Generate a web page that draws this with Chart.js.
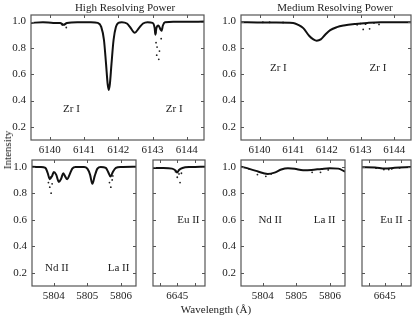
<!DOCTYPE html>
<html>
<head>
<meta charset="utf-8">
<script src="https://cdn.jsdelivr.net/npm/chart.js@4"></script>
<style>
  body { margin: 0; background: #fff; }
  #wrap { position: relative; width: 415px; height: 317px; font-family: "Liberation Serif", serif; color: #222; }
  canvas { position: absolute; }
  .lbl { position: absolute; font-size: 11px; white-space: nowrap; transform: translate(-50%, -50%); }
</style>
</head>
<body>
<div id="wrap">
  <canvas id="zrHigh" width="210" height="160" style="left:0;top:0"></canvas>
  <canvas id="zrMed" width="205" height="160" style="left:210px;top:0"></canvas>
  <canvas id="ndHigh" width="140" height="160" style="left:0;top:145px"></canvas>
  <canvas id="euHigh" width="70" height="160" style="left:140px;top:145px"></canvas>
  <canvas id="ndMed" width="140" height="160" style="left:210px;top:145px"></canvas>
  <canvas id="euMed" width="65" height="160" style="left:350px;top:145px"></canvas>

  <div class="lbl" style="left:125px;top:7px">High Resolving Power</div>
  <div class="lbl" style="left:335px;top:7px">Medium Resolving Power</div>
  <div class="lbl" style="left:7px;top:150px;transform:translate(-50%,-50%) rotate(-90deg)">Intensity</div>
  <div class="lbl" style="left:216px;top:309px">Wavelength (Å)</div>
</div>
<script>
// tick values
const zrTicks = [6140, 6141, 6142, 6143, 6144];
const ndLaTicks = [5804, 5805, 5806];
const euTicks = [6644.5, 6645, 6645.5];
const euLabelTicks = [6645];
const intensityTicks = [0.2, 0.4, 0.6, 0.8, 1.0];

// High resolving power - Zr I region
const zrHighWave = [6139.45, 6139.8, 6140.1, 6140.3, 6140.4, 6140.5, 6140.8, 6141.2, 6141.4, 6141.5, 6141.58, 6141.64, 6141.69, 6141.72, 6141.75, 6141.8, 6141.86, 6141.93, 6142.0, 6142.1, 6142.25, 6142.35, 6142.48, 6142.6, 6142.72, 6142.85, 6143.0, 6143.06, 6143.08, 6143.11, 6143.17, 6143.23, 6143.26, 6143.3, 6143.36, 6143.6, 6144.0, 6144.5];
const zrHighFlux = [0.99, 0.995, 0.99, 0.99, 0.975, 0.99, 0.995, 0.995, 0.99, 0.96, 0.86, 0.68, 0.52, 0.48, 0.52, 0.68, 0.86, 0.96, 0.99, 0.995, 0.985, 0.955, 0.915, 0.95, 0.985, 0.995, 0.99, 0.95, 0.90, 0.95, 0.97, 0.94, 0.93, 0.97, 0.995, 0.998, 0.998, 1.0];
const zrHighObsWave = [6140.36, 6140.48, 6143.09, 6143.25, 6143.1, 6143.13, 6143.2, 6143.12, 6143.18];
const zrHighObsFlux = [0.975, 0.955, 0.915, 0.87, 0.84, 0.806, 0.776, 0.745, 0.713];

// Medium resolving power - Zr I region
const zrMedWave = [6139.45, 6140.0, 6140.5, 6141.0, 6141.15, 6141.3, 6141.48, 6141.6, 6141.7, 6141.82, 6141.95, 6142.1, 6142.3, 6142.5, 6142.85, 6143.2, 6143.6, 6144.5];
const zrMedFlux = [0.995, 0.993, 0.993, 0.99, 0.975, 0.95, 0.89, 0.865, 0.855, 0.865, 0.9, 0.935, 0.958, 0.97, 0.982, 0.99, 0.995, 0.995];
const zrMedObsWave = [6140.1, 6140.3, 6140.7, 6142.9, 6143.0, 6143.08, 6143.15, 6143.27, 6143.4, 6143.55];
const zrMedObsFlux = [0.995, 0.995, 0.993, 0.975, 0.985, 0.94, 0.98, 0.945, 0.99, 0.978];

// High resolving power - Nd II / La II region
const ndHighWave = [5803.35, 5803.6, 5803.75, 5803.82, 5803.88, 5803.95, 5804.0, 5804.07, 5804.15, 5804.22, 5804.28, 5804.33, 5804.4, 5804.47, 5804.55, 5804.65, 5804.9, 5805.0, 5805.08, 5805.15, 5805.22, 5805.3, 5805.4, 5805.55, 5805.62, 5805.69, 5805.76, 5805.85, 5806.0, 5806.45];
const ndHighFlux = [1.0, 0.998, 0.99, 0.95, 0.905, 0.93, 0.96, 0.94, 0.885, 0.91, 0.95, 0.93, 0.905, 0.94, 0.985, 0.998, 0.998, 0.985, 0.94, 0.87, 0.93, 0.985, 0.998, 0.99, 0.96, 0.925, 0.96, 0.99, 0.998, 1.0];
const ndHighObsWave = [5803.84, 5803.88, 5803.92, 5803.95, 5803.9, 5805.66, 5805.7, 5805.74, 5805.76];
const ndHighObsFlux = [0.88, 0.845, 0.80, 0.87, 0.92, 0.88, 0.845, 0.9, 0.93];

// High resolving power - Eu II region
const euHighWave = [6644.3, 6644.6, 6644.85, 6644.95, 6645.0, 6645.05, 6645.15, 6645.4, 6645.8];
const euHighFlux = [0.99, 0.99, 0.985, 0.97, 0.955, 0.975, 0.99, 0.997, 1.0];
const euHighObsWave = [6644.95, 6645.0, 6645.05, 6645.08, 6645.12];
const euHighObsFlux = [0.962, 0.92, 0.945, 0.88, 0.95];

// Medium resolving power - Nd II / La II region
const ndMedWave = [5803.35, 5803.6, 5803.8, 5804.0, 5804.15, 5804.35, 5804.55, 5804.75, 5804.95, 5805.2, 5805.45, 5805.75, 5806.0, 5806.25, 5806.45];
const ndMedFlux = [1.0, 0.983, 0.968, 0.952, 0.945, 0.955, 0.978, 0.987, 0.984, 0.973, 0.975, 0.983, 0.988, 0.985, 0.962];
const ndMedObsWave = [5803.59, 5803.84, 5804.09, 5804.25, 5805.47, 5805.72, 5805.95];
const ndMedObsFlux = [0.983, 0.94, 0.927, 0.945, 0.957, 0.957, 0.975];

// Medium resolving power - Eu II region
const euMedWave = [6644.3, 6644.7, 6645.0, 6645.3, 6645.8];
const euMedFlux = [0.995, 0.993, 0.985, 0.992, 0.997];
const euMedObsWave = [6644.73, 6644.97, 6645.12, 6645.21, 6645.45];
const euMedObsFlux = [0.988, 0.978, 0.978, 0.983, 0.99];

const FONT = { family: '"Liberation Serif", serif', size: 11 };

function zip(xs, ys) {
    return xs.map((x, i) => ({ x: x, y: ys[i] }));
}

// frame, inward ticks and line labels
const framePlugin = {
    id: 'frame',
    afterDraw(chart, args, opts) {
        const ctx = chart.ctx;
        const a = chart.chartArea;
        const xs = chart.scales.x, ys = chart.scales.y;
        ctx.save();
        ctx.strokeStyle = '#555';
        ctx.lineWidth = 1.2;
        ctx.strokeRect(a.left, a.top, a.right - a.left, a.bottom - a.top);
        ctx.lineWidth = 1;
        ctx.beginPath();
        opts.xTicks.forEach(v => {
            const px = Math.round(xs.getPixelForValue(v)) + 0.5;
            ctx.moveTo(px, a.top); ctx.lineTo(px, a.top + 3);
            ctx.moveTo(px, a.bottom); ctx.lineTo(px, a.bottom - 3);
        });
        intensityTicks.forEach(v => {
            const py = Math.round(ys.getPixelForValue(v)) + 0.5;
            ctx.moveTo(a.left, py); ctx.lineTo(a.left + 3, py);
            ctx.moveTo(a.right, py); ctx.lineTo(a.right - 3, py);
        });
        ctx.stroke();
        ctx.fillStyle = '#222';
        ctx.font = '11px "Liberation Serif", serif';
        ctx.textAlign = 'center';
        ctx.textBaseline = 'middle';
        (opts.notes || []).forEach(n => {
            ctx.fillText(n.text, xs.getPixelForValue(n.x), ys.getPixelForValue(n.y));
        });
        ctx.restore();
    }
};

function panel(id, p) {
    return new Chart(document.getElementById(id), {
        type: 'line',
        data: {
            datasets: [
                {
                    data: zip(p.wave, p.flux),
                    borderColor: '#111',
                    borderWidth: 2,
                    pointRadius: 0,
                    cubicInterpolationMode: 'monotone',
                    fill: false
                },
                {
                    data: zip(p.obsWave, p.obsFlux),
                    showLine: false,
                    pointRadius: 0.9,
                    pointBorderWidth: 0,
                    backgroundColor: '#222'
                }
            ]
        },
        options: {
            responsive: false,
            animation: false,
            events: [],
            layout: { padding: { top: 15, right: p.padRight, left: 0, bottom: 0 } },
            plugins: {
                legend: { display: false },
                tooltip: { enabled: false },
                frame: { xTicks: p.xTicks, notes: p.notes }
            },
            scales: {
                x: {
                    type: 'linear',
                    min: p.xMin,
                    max: p.xMax,
                    grid: { display: false, drawTicks: false },
                    border: { display: false },
                    afterBuildTicks: s => { s.ticks = p.xTicks.map(v => ({ value: v })); },
                    afterFit: s => { s.height = p.xHeight; },
                    ticks: {
                        padding: 4,
                        maxRotation: 0,
                        autoSkip: false,
                        color: '#222',
                        font: FONT,
                        callback: v => (p.xLabels.includes(v) ? String(v) : '')
                    }
                },
                y: {
                    min: 0.1,
                    max: 1.05,
                    grid: { display: false, drawTicks: false },
                    border: { display: false },
                    afterBuildTicks: s => { s.ticks = intensityTicks.map(v => ({ value: v })); },
                    afterFit: s => { s.width = p.yWidth; },
                    ticks: {
                        display: p.yLabels,
                        padding: 5,
                        color: '#222',
                        font: FONT,
                        callback: v => v.toFixed(1)
                    }
                }
            }
        },
        plugins: [framePlugin]
    });
}

panel('zrHigh', {
    wave: zrHighWave, flux: zrHighFlux, obsWave: zrHighObsWave, obsFlux: zrHighObsFlux,
    xMin: 6139.45, xMax: 6144.5, xTicks: zrTicks, xLabels: zrTicks,
    yWidth: 31, yLabels: true, padRight: 6, xHeight: 20,
    notes: [{ text: 'Zr I', x: 6140.63, y: 0.335 }, { text: 'Zr I', x: 6143.63, y: 0.335 }]
});
panel('zrMed', {
    wave: zrMedWave, flux: zrMedFlux, obsWave: zrMedObsWave, obsFlux: zrMedObsFlux,
    xMin: 6139.45, xMax: 6144.5, xTicks: zrTicks, xLabels: zrTicks,
    yWidth: 31, yLabels: true, padRight: 1, xHeight: 20,
    notes: [{ text: 'Zr I', x: 6140.56, y: 0.645 }, { text: 'Zr I', x: 6143.52, y: 0.645 }]
});
panel('ndHigh', {
    wave: ndHighWave, flux: ndHighFlux, obsWave: ndHighObsWave, obsFlux: ndHighObsFlux,
    xMin: 5803.35, xMax: 5806.45, xTicks: ndLaTicks, xLabels: ndLaTicks,
    yWidth: 32, yLabels: true, padRight: 4, xHeight: 19,
    notes: [{ text: 'Nd II', x: 5804.09, y: 0.235 }, { text: 'La II', x: 5805.93, y: 0.235 }]
});
panel('euHigh', {
    wave: euHighWave, flux: euHighFlux, obsWave: euHighObsWave, obsFlux: euHighObsFlux,
    xMin: 6644.3, xMax: 6645.8, xTicks: euTicks, xLabels: euLabelTicks,
    yWidth: 13, yLabels: false, padRight: 5, xHeight: 19,
    notes: [{ text: 'Eu II', x: 6645.32, y: 0.597 }]
});
panel('ndMed', {
    wave: ndMedWave, flux: ndMedFlux, obsWave: ndMedObsWave, obsFlux: ndMedObsFlux,
    xMin: 5803.35, xMax: 5806.45, xTicks: ndLaTicks, xLabels: ndLaTicks,
    yWidth: 31, yLabels: true, padRight: 5, xHeight: 19,
    notes: [{ text: 'Nd II', x: 5804.22, y: 0.597 }, { text: 'La II', x: 5805.84, y: 0.597 }]
});
panel('euMed', {
    wave: euMedWave, flux: euMedFlux, obsWave: euMedObsWave, obsFlux: euMedObsFlux,
    xMin: 6644.3, xMax: 6645.8, xTicks: euTicks, xLabels: euLabelTicks,
    yWidth: 12, yLabels: false, padRight: 1, xHeight: 19,
    notes: [{ text: 'Eu II', x: 6645.2, y: 0.597 }]
});
</script>
</body>
</html>
